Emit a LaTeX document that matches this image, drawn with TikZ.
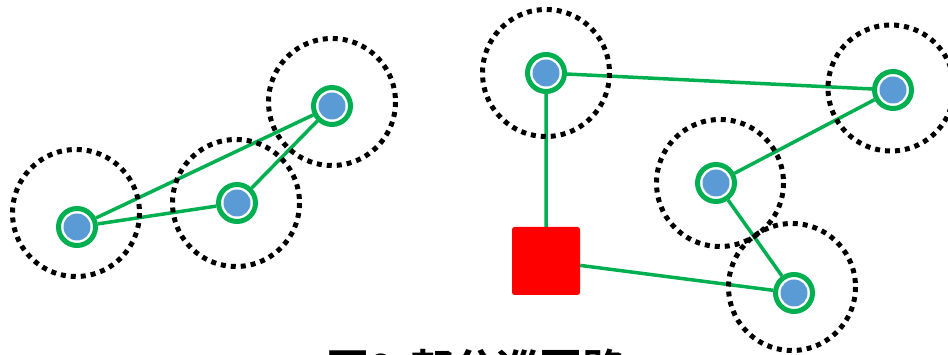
\documentclass[tikz,border=0pt]{standalone}
\usepackage{fontspec}
\newfontfamily\jpfont{Noto Sans CJK JP}[BoldFont={Noto Sans CJK JP Bold}]
\usetikzlibrary{backgrounds}
\definecolor{tourgreen}{HTML}{00B050}
\definecolor{cityblue}{HTML}{5B9BD5}
\begin{document}
\begin{tikzpicture}[x=1pt,y=-1pt,
  city/.style={circle, draw=tourgreen, line width=5pt, fill=white,
    minimum size=37pt, inner sep=0pt,
    path picture={\fill[cityblue] (path picture bounding box.center) circle (13.5pt);}},
  depot/.style={rectangle, fill=red, minimum size=68pt, inner sep=0pt, rounded corners=2.5pt},
  link/.style={draw=tourgreen, line width=3.5pt},
  zone/.style={draw=black, line width=5pt, dash pattern=on 5pt off 5pt}]
\useasboundingbox (0,0) rectangle (948,355);

% cities and depot
\node[city] (a) at (77,227) {};
\node[city] (b) at (237,203) {};
\node[city] (c) at (332,106) {};
\node[city] (d) at (546,73) {};
\node[city] (e) at (893,90) {};
\node[city] (f) at (716,183) {};
\node[city] (g) at (794,293) {};
\node[depot] (s) at (546,261) {};

\begin{scope}[on background layer]
  % partial tours
  \path[link] (a) -- (b) (a) -- (c) (b) -- (c);
  \path[link] (d) -- (e) (d) -- (s) (e) -- (f) (f) -- (g) (s) -- (g);
  % neighbourhood radii
  \draw[zone] (76,213) circle (63.5);
  \draw[zone] (236,203) circle (63.5);
  \draw[zone] (332,102) circle (63.5);
  \draw[zone] (546,73) circle (63.5);
  \draw[zone] (891,88) circle (63);
  \draw[zone] (720,183) circle (63.5);
  \draw[zone] (792,287) circle (63.5);
\end{scope}

\node[anchor=north, inner sep=0pt, font=\jpfont\bfseries\fontsize{43}{43}\selectfont] (cap) at (476,349) {図9\hspace{0.35em}部分巡回路};
\end{tikzpicture}
\end{document}
